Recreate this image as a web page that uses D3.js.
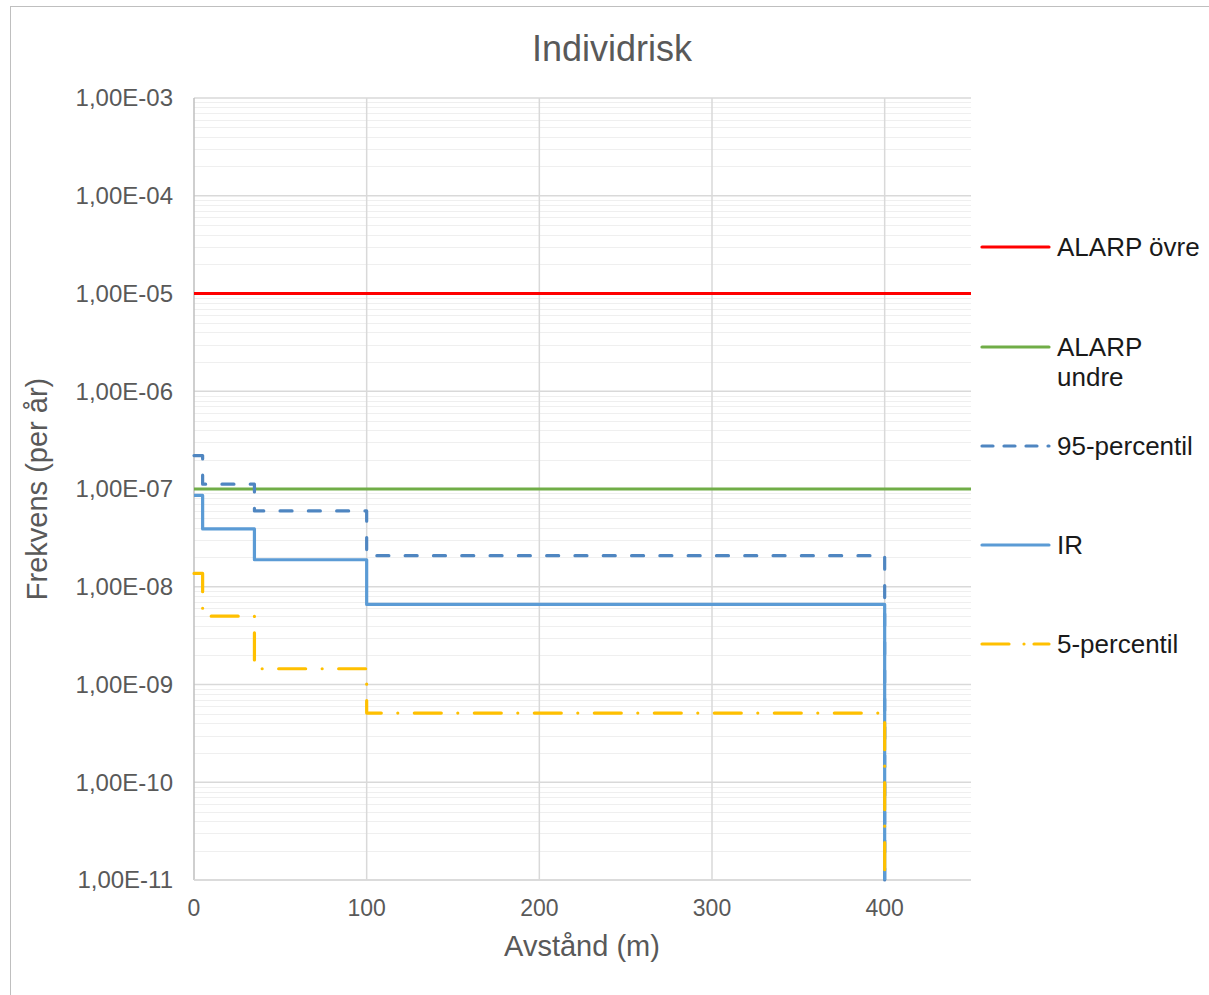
<!DOCTYPE html>
<html>
<head>
<meta charset="utf-8">
<script src="https://cdn.jsdelivr.net/npm/d3@7"></script>
<style>
  html, body { margin: 0; padding: 0; background: #fff; }
  svg { display: block; font-family: "Liberation Sans", Arial, sans-serif; }
</style>
</head>
<body>
<svg id="chart" width="1209" height="995"></svg>
<script>
// Step breakpoints along the distance axis (m)
const distances = [0, 5, 35, 100, 400];
// Individual risk per step (per year)
const irValues = [8.6e-8, 3.9e-8, 1.89e-8, 6.6e-9];
const p95Values = [2.2e-7, 1.12e-7, 5.96e-8, 2.08e-8];
const p5Values = [1.37e-8, 5.0e-9, 1.45e-9, 5.1e-10];
// ALARP limits
const alarpUpper = 1e-5;
const alarpLower = 1e-7;
// Axis ticks
const xTicks = [0, 100, 200, 300, 400];
const yTicks = [1e-3, 1e-4, 1e-5, 1e-6, 1e-7, 1e-8, 1e-9, 1e-10, 1e-11];
const yTickLabels = ["1,00E-03", "1,00E-04", "1,00E-05", "1,00E-06", "1,00E-07",
                     "1,00E-08", "1,00E-09", "1,00E-10", "1,00E-11"];
const legendLabels = [["ALARP övre"], ["ALARP", "undre"], ["95-percentil"], ["IR"], ["5-percentil"]];

const svg = d3.select("#chart");
const W = 1209, H = 995;
const plot = { left: 194, right: 971, top: 98, bottom: 880 };

const x = d3.scaleLinear().domain([0, 450]).range([plot.left, plot.right]);
const y = d3.scaleLog().domain([1e-11, 1e-3]).range([plot.bottom, plot.top]);

svg.append("rect").attr("width", W).attr("height", H).attr("fill", "#fff");
svg.append("rect").attr("x", 10.5).attr("y", 6.5).attr("width", W).attr("height", H)
  .attr("fill", "none").attr("stroke", "#bfbfbf").attr("stroke-width", 1);

// Minor horizontal gridlines
const minor = [];
for (let e = -11; e < -3; e++) for (let k = 2; k <= 9; k++) minor.push(k * Math.pow(10, e));
svg.append("g").selectAll("line").data(minor).join("line")
  .attr("x1", plot.left).attr("x2", plot.right)
  .attr("y1", d => Math.round(y(d)) + 0.5).attr("y2", d => Math.round(y(d)) + 0.5)
  .attr("stroke", "#efefef").attr("stroke-width", 1);

// Major horizontal gridlines
svg.append("g").selectAll("line").data(yTicks).join("line")
  .attr("x1", plot.left).attr("x2", plot.right)
  .attr("y1", d => y(d)).attr("y2", d => y(d))
  .attr("stroke", "#d9d9d9").attr("stroke-width", 1.5);

// Vertical gridlines
svg.append("g").selectAll("line").data(xTicks.filter(d => d > 0)).join("line")
  .attr("x1", d => x(d)).attr("x2", d => x(d))
  .attr("y1", plot.top).attr("y2", plot.bottom)
  .attr("stroke", "#d9d9d9").attr("stroke-width", 1.5);

// Axis lines
svg.append("line").attr("x1", plot.left).attr("x2", plot.left)
  .attr("y1", plot.top).attr("y2", plot.bottom)
  .attr("stroke", "#bfbfbf").attr("stroke-width", 1.5);
svg.append("line").attr("x1", plot.left).attr("x2", plot.right)
  .attr("y1", plot.bottom).attr("y2", plot.bottom)
  .attr("stroke", "#d9d9d9").attr("stroke-width", 1.5);

// Y tick labels
svg.append("g").selectAll("text").data(yTicks).join("text")
  .attr("x", 173).attr("y", d => y(d)).attr("dy", "0.35em")
  .attr("text-anchor", "end").attr("font-size", 24).attr("fill", "#595959")
  .text((d, i) => yTickLabels[i]);

// X tick labels
svg.append("g").selectAll("text").data(xTicks).join("text")
  .attr("x", d => x(d)).attr("y", 908).attr("dy", "0.35em")
  .attr("text-anchor", "middle").attr("font-size", 23).attr("fill", "#595959")
  .text(d => d);

// Titles
svg.append("text").attr("x", 612).attr("y", 48).attr("dy", "0.35em")
  .attr("text-anchor", "middle").attr("font-size", 36).attr("fill", "#595959")
  .text("Individrisk");
svg.append("text").attr("x", 582).attr("y", 946).attr("dy", "0.35em")
  .attr("text-anchor", "middle").attr("font-size", 29).attr("fill", "#595959")
  .text("Avstånd (m)");
svg.append("text").attr("transform", "translate(37,489) rotate(-90)").attr("dy", "0.35em")
  .attr("text-anchor", "middle").attr("font-size", 29).attr("fill", "#595959")
  .text("Frekvens (per år)");

// Series
const floor = y.domain()[0];
function stepPoints(vals) {
  const pts = vals.map((v, i) => [distances[i], v]);
  pts.push([distances[distances.length - 1], vals[vals.length - 1]]);
  pts.push([distances[distances.length - 1], floor]);
  return pts;
}
const stepLine = d3.line().x(d => x(d[0])).y(d => y(d[1])).curve(d3.curveStepAfter);
const flatLine = d3.line().x(d => x(d[0])).y(d => y(d[1]));

const series = [
  { pts: [[0, alarpUpper], [450, alarpUpper]], gen: flatLine, color: "#ff0000", dash: null },
  { pts: [[0, alarpLower], [450, alarpLower]], gen: flatLine, color: "#70ad47", dash: null },
  { pts: stepPoints(p95Values), gen: stepLine, color: "#4f86c1", dash: "12,16.3" },
  { pts: stepPoints(irValues), gen: stepLine, color: "#5b9bd5", dash: null },
  { pts: stepPoints(p5Values), gen: stepLine, color: "#ffc000", dash: "27,16.5,0,16.5" }
];

svg.append("g").selectAll("path").data(series).join("path")
  .attr("d", s => s.gen(s.pts))
  .attr("fill", "none").attr("stroke", s => s.color).attr("stroke-width", 3.2)
  .attr("stroke-linecap", s => s.dash ? "round" : "butt")
  .attr("stroke-linejoin", "round")
  .attr("stroke-dasharray", s => s.dash);

// Legend
const legendY = [247, 347, 446, 545, 644];
const lg = svg.append("g").selectAll("g").data(series).join("g")
  .attr("transform", (s, i) => `translate(0,${legendY[i]})`);
lg.append("line").attr("x1", 982).attr("x2", 1049).attr("y1", 0).attr("y2", 0)
  .attr("stroke", s => s.color).attr("stroke-width", 3.2)
  .attr("stroke-linecap", "round")
  .attr("stroke-dasharray", (s, i) => i === 2 ? "11,11" : (i === 4 ? "27,15,0,10" : null));
lg.each(function (s, i) {
  const t = d3.select(this).append("text").attr("x", 1057).attr("y", 0)
    .attr("font-size", 26).attr("fill", "#1a1a1a");
  legendLabels[i].forEach((line, j) => {
    t.append("tspan").attr("x", 1057).attr("dy", j === 0 ? "0.35em" : "1.15em").text(line);
  });
});
</script>
</body>
</html>
